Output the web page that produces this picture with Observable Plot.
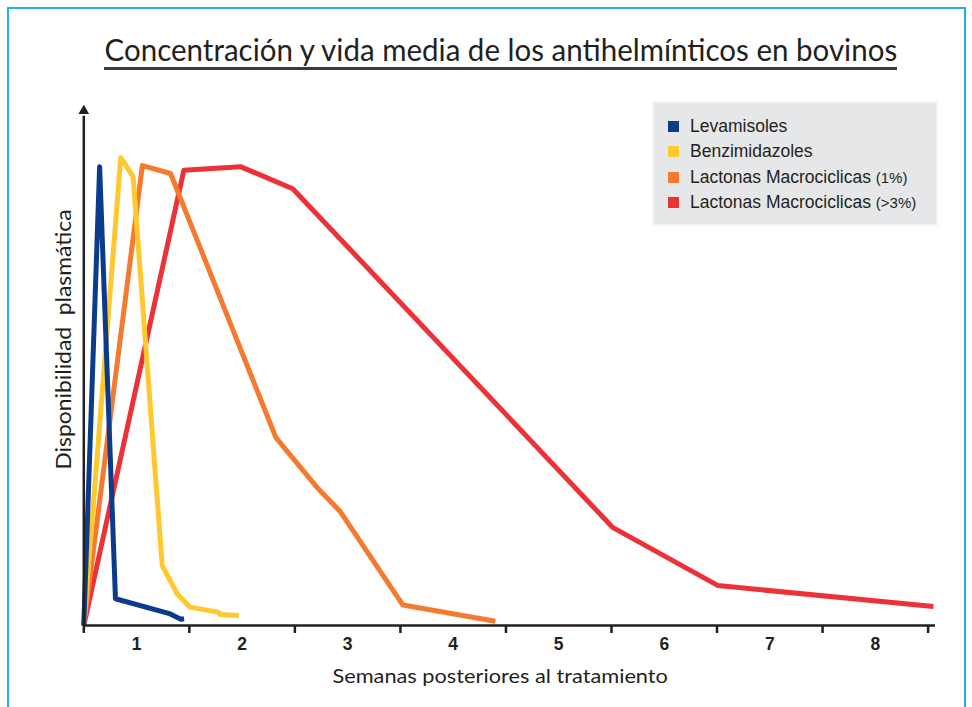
<!DOCTYPE html>
<html>
<head>
<meta charset="utf-8">
<script src="https://cdn.jsdelivr.net/npm/d3@7"></script>
<script src="https://cdn.jsdelivr.net/npm/@observablehq/plot@0.6"></script>
<style>
  body { margin: 0; background: #fff; }
  #wrap { position: relative; width: 972px; height: 707px; overflow: hidden; background: #fff; }
  #frame { position: absolute; left: 7px; top: 7px; width: 959px; height: 760px; border: 2px solid #1db1e8; box-sizing: border-box; }
  #chart { position: absolute; left: 0; top: 0; }
  .fit { position: absolute; white-space: pre; font-family: Lato, "Open Sans", sans-serif; color: #231f20; line-height: 1; }
  #title { font-size: 30px; }
  #underline { position: absolute; left: 104px; top: 67px; width: 793px; height: 3px; background: #3a3a3c; }
  #ylabel { font-size: 21px; }
  #xlabel { font-size: 20px; }
  #legend { position: absolute; left: 652px; top: 101px; width: 286px; height: 125px; background: #e6e7e8; border: 2px solid #f4f4f4; box-sizing: border-box; padding: 11px 0 0 14px; font-family: "Liberation Sans", Arial, sans-serif; font-size: 17.5px; color: #231f20; }
  .row { height: 25.3px; display: flex; align-items: center; }
  .sw { width: 11px; height: 11px; margin-right: 11px; flex: none; }
  .small { font-size: 15px; }
</style>
</head>
<body>
<div id="wrap">
  <div id="frame"></div>
  <div id="chart"></div>
  <div id="title" class="fit"></div>
  <div id="underline"></div>
  <div id="ylabel" class="fit"></div>
  <div id="xlabel" class="fit"></div>
  <div id="legend"></div>
</div>
<script>
// ---- data ----
const titleText = "Concentración y vida media de los antihelmínticos en bovinos";
const yLabelText = "Disponibilidad  plasmática";
const xLabelText = "Semanas posteriores al tratamiento";

const series = ["Levamisoles", "Benzimidazoles", "Lactonas Macrociclicas (1%)", "Lactonas Macrociclicas (>3%)"];
const colors = ["#0b3c8c", "#fec82e", "#f47a2f", "#ec3237"];

const weekTicks = [0, 1, 2, 3, 4, 5, 6, 7, 8];
const weekLabelPos = [0.5, 1.5, 2.5, 3.5, 4.5, 5.5, 6.5, 7.5];
const weekLabels = ["1", "2", "3", "4", "5", "6", "7", "8"];

// Levamisoles
const levX = [0, 0.15, 0.30, 0.82, 0.92, 0.95];
const levY = [0, 87.4, 5.1, 2.2, 1.2, 1.3];
// Benzimidazoles
const benX = [0, 0.35, 0.467, 0.743, 0.886, 1.005, 1.28, 1.295, 1.47];
const benY = [0, 89.1, 85.5, 11.4, 6.0, 3.5, 2.5, 2.1, 1.9];
// Lactonas Macrociclicas (1%)
const lm1X = [0, 0.555, 0.822, 1.82, 2.21, 2.43, 3.024, 3.9];
const lm1Y = [0, 87.6, 86.1, 35.8, 26.3, 21.7, 3.9, 0.8];
// Lactonas Macrociclicas (>3%)
const lm3X = [0, 0.948, 1.485, 1.98, 5.01, 6.01, 8.05];
const lm3Y = [0, 86.7, 87.4, 83.2, 18.7, 7.6, 3.6];

const xDomain = [0, 8.07];
const yDomain = [0, 100];

// ---- build ----
const toRows = (xs, ys) => xs.map((x, i) => ({x, y: ys[i]}));
const lines = [
  {data: toRows(lm3X, lm3Y), color: colors[3]},
  {data: toRows(lm1X, lm1Y), color: colors[2]},
  {data: toRows(benX, benY), color: colors[1]},
  {data: toRows(levX, levY), color: colors[0]}
];
const ink = "#231f20";

const chart = Plot.plot({
  width: 972,
  height: 707,
  marginLeft: 83.3,
  marginRight: 37,
  marginTop: 100,
  marginBottom: 82,
  x: {domain: xDomain},
  y: {domain: yDomain, axis: null},
  style: {background: "transparent", overflow: "visible", fontFamily: "Liberation Sans, Arial, sans-serif"},
  marks: [
    ...lines.map(l => Plot.line(l.data, {x: "x", y: "y", stroke: l.color, strokeWidth: 5, strokeLinejoin: "round", strokeLinecap: "butt"})),
    Plot.ruleY([0], {stroke: ink, strokeWidth: 2.5}),
    Plot.ruleX([0], {y1: 0, y2: 97, stroke: ink, strokeWidth: 2.5}),
    Plot.dot([{x: 0, y: 98}], {x: "x", y: "y", symbol: "triangle", r: 4, fill: ink, stroke: "none"}),
    Plot.axisX(weekTicks, {tickSize: 8, tickFormat: () => "", stroke: ink, strokeWidth: 2.5, label: null}),
    Plot.text(weekLabelPos, {x: d => d, y: () => 0, dy: 19, text: (d, i) => weekLabels[i], lineAnchor: "middle", fontSize: 17.5, fontWeight: "bold", fill: ink})
  ]
});
document.getElementById("chart").appendChild(chart);

// text helpers: center at (cx, cy), fit to target width
function place(id, text, cx, cy, targetW, rotate) {
  const el = document.getElementById(id);
  el.textContent = text;
  const w = el.offsetWidth, h = el.offsetHeight;
  const s = targetW / w;
  el.style.left = (cx - w / 2) + "px";
  el.style.top = (cy - h / 2) + "px";
  el.style.transform = (rotate ? "rotate(-90deg) " : "") + "scaleX(" + s + ")";
}
place("title", titleText, 500.5, 49, 793, false);
place("ylabel", yLabelText, 62, 339, 260, true);
place("xlabel", xLabelText, 500, 675, 335, false);

// legend
const legend = document.getElementById("legend");
series.forEach((name, i) => {
  const row = document.createElement("div");
  row.className = "row";
  const sw = document.createElement("div");
  sw.className = "sw";
  sw.style.background = colors[i];
  row.appendChild(sw);
  const m = name.match(/^(.*?)(\s\(.*\))$/);
  const t = document.createElement("span");
  t.style.whiteSpace = "pre";
  if (m) {
    t.appendChild(document.createTextNode(m[1] + " "));
    const s = document.createElement("span");
    s.className = "small";
    s.textContent = m[2].trim();
    t.appendChild(s);
  } else {
    t.textContent = name;
  }
  row.appendChild(t);
  legend.appendChild(row);
});
</script>
</body>
</html>
